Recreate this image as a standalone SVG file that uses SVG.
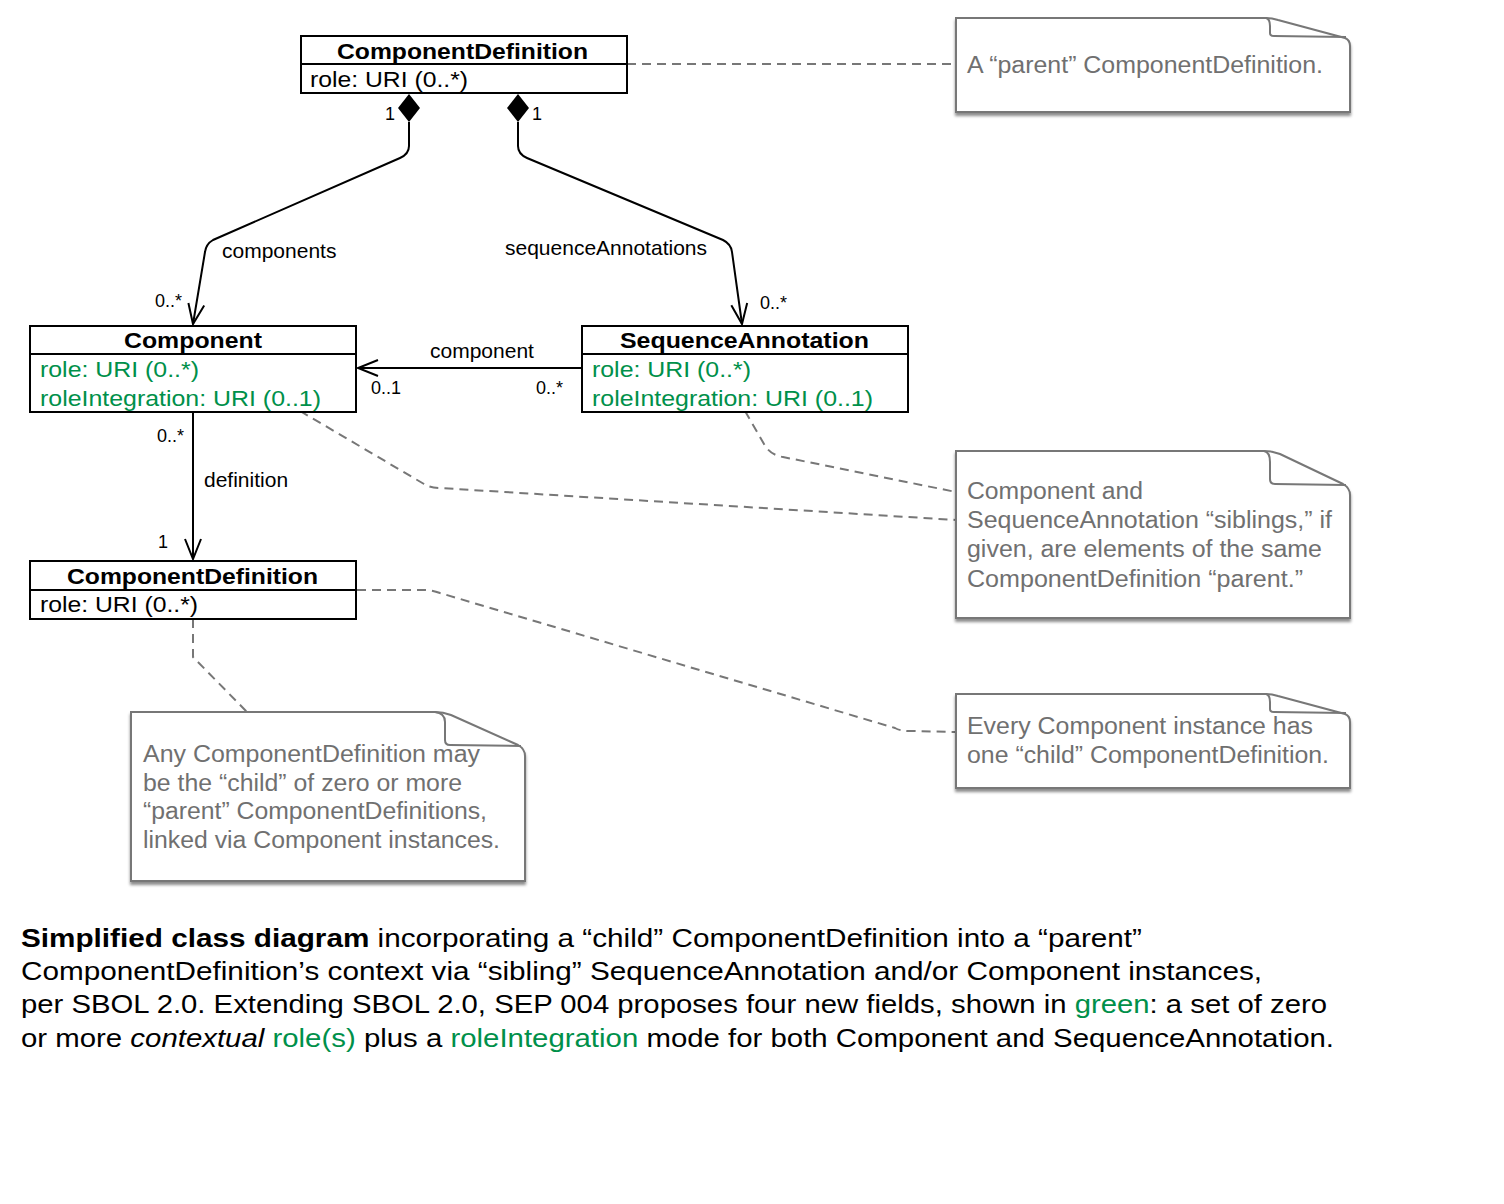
<svg xmlns="http://www.w3.org/2000/svg" width="1504" height="1204" viewBox="0 0 1504 1204">
<style>
text{font-family:"Liberation Sans",Arial,Helvetica,sans-serif;}
.box{fill:#fff;stroke:#000;stroke-width:2;}
.div{stroke:#000;stroke-width:2;}
.title{font-size:22px;font-weight:bold;fill:#000;}
.attr{font-size:22px;fill:#000;}
.green{fill:#00904a;}
.lbl{font-size:21px;fill:#000;}
.mult{font-size:18px;fill:#000;}
.note{fill:#fff;stroke:#777;stroke-width:2;filter:url(#sh);}
.fold{fill:none;stroke:#777;stroke-width:2;}
.ntext{font-size:23px;fill:#707070;}
.assoc{fill:none;stroke:#000;stroke-width:2;}
.dash{fill:none;stroke:#777;stroke-width:2;stroke-dasharray:9 6;}
.cap{font-size:26px;fill:#000;}
</style>
<defs>
<filter id="sh" x="-5%" y="-5%" width="115%" height="125%">
<feDropShadow dx="0" dy="3" stdDeviation="1.5" flood-color="#000" flood-opacity="0.45"/>
</filter>
<marker id="open" markerWidth="24" markerHeight="20" viewBox="0 0 24 20" refX="22" refY="10" orient="auto" markerUnits="userSpaceOnUse">
<path d="M2,2 L22,10 L2,18" fill="none" stroke="#000" stroke-width="2"/>
</marker>
</defs>
<rect width="1504" height="1204" fill="#fff"/>

<g id="connectors">
<path class="dash" d="M627,64 L956,64"/>
<path class="dash" d="M300,411 L424,484 Q430,488 440,488 L956,520"/>
<path class="dash" d="M745,411 L764,444 Q770,455 783,457 L956,492"/>
<path class="dash" d="M357,590 L425,590 Q432,590 440,593 L895,728 Q900,731 910,731 L956,732"/>
<path class="dash" d="M193,619 L193,657 L247,712"/>
<path class="assoc" d="M409,122 L409,146 Q409,154 400,158 L213,240 Q206,244 205,252 L193,324" marker-end="url(#open)"/>
<path class="assoc" d="M518,122 L518,146 Q518,154 527,158 L723,240 Q731,244 732,252 L742,324" marker-end="url(#open)"/>
<polygon points="409,94 420,108 409,122 398,108" fill="#000"/>
<polygon points="518,94 529,108 518,122 507,108" fill="#000"/>
<path class="assoc" d="M582,368 L358,368" marker-end="url(#open)"/>
<path class="assoc" d="M193,412 L193,559" marker-end="url(#open)"/>
<text class="mult" x="385" y="120">1</text>
<text class="mult" x="532" y="120">1</text>
<text class="lbl" x="222" y="258">components</text>
<text class="lbl" x="505" y="255">sequenceAnnotations</text>
<text class="mult" x="155" y="307">0..*</text>
<text class="mult" x="760" y="309">0..*</text>
<text class="lbl" x="430" y="358">component</text>
<text class="mult" x="371" y="394">0..1</text>
<text class="mult" x="536" y="394">0..*</text>
<text class="mult" x="157" y="442">0..*</text>
<text class="lbl" x="204" y="487">definition</text>
<text class="mult" x="158" y="548">1</text>
</g>

<g id="parentCD">
<rect class="box" x="301" y="36" width="326" height="57"/>
<line class="div" x1="301" y1="64" x2="627" y2="64"/>
<text class="title" x="337" y="59" textLength="251" lengthAdjust="spacingAndGlyphs">ComponentDefinition</text>
<text class="attr" x="310" y="87" textLength="158" lengthAdjust="spacingAndGlyphs">role: URI (0..*)</text>
</g>

<g id="component">
<rect class="box" x="30" y="326" width="326" height="86"/>
<line class="div" x1="30" y1="354" x2="356" y2="354"/>
<text class="title" x="124" y="348" textLength="138" lengthAdjust="spacingAndGlyphs">Component</text>
<text class="attr green" x="40" y="377" textLength="159" lengthAdjust="spacingAndGlyphs">role: URI (0..*)</text>
<text class="attr green" x="40" y="406" textLength="281" lengthAdjust="spacingAndGlyphs">roleIntegration: URI (0..1)</text>
</g>

<g id="sequenceAnnotation">
<rect class="box" x="582" y="326" width="326" height="86"/>
<line class="div" x1="582" y1="354" x2="908" y2="354"/>
<text class="title" x="620" y="348" textLength="249" lengthAdjust="spacingAndGlyphs">SequenceAnnotation</text>
<text class="attr green" x="592" y="377" textLength="159" lengthAdjust="spacingAndGlyphs">role: URI (0..*)</text>
<text class="attr green" x="592" y="406" textLength="281" lengthAdjust="spacingAndGlyphs">roleIntegration: URI (0..1)</text>
</g>

<g id="childCD">
<rect class="box" x="30" y="561" width="326" height="58"/>
<line class="div" x1="30" y1="590" x2="356" y2="590"/>
<text class="title" x="67" y="584" textLength="251" lengthAdjust="spacingAndGlyphs">ComponentDefinition</text>
<text class="attr" x="40" y="612" textLength="158" lengthAdjust="spacingAndGlyphs">role: URI (0..*)</text>
</g>

<g id="note1">
<path class="note" d="M956,18 L1266,18 Q1272,18 1278,20 L1345,38 Q1350,40 1350,46 L1350,112 L956,112 Z"/>
<path class="fold" d="M1266,18 Q1270,19 1270,26 L1270,33 Q1270,36 1274,36 L1346,37"/>
<text class="ntext" x="967" y="73" textLength="356" lengthAdjust="spacingAndGlyphs">A “parent” ComponentDefinition.</text>
</g>

<g id="note2">
<path class="note" d="M956,451 L1264,451 Q1272,451 1280,454 L1343,484 Q1350,488 1350,495 L1350,618 L956,618 Z"/>
<path class="fold" d="M1264,451 Q1270,452 1270,462 L1270,479 Q1270,484 1275,484 L1346,485"/>
<text class="ntext" x="967" y="499" textLength="176" lengthAdjust="spacingAndGlyphs">Component and</text>
<text class="ntext" x="967" y="528" textLength="365" lengthAdjust="spacingAndGlyphs">SequenceAnnotation “siblings,” if</text>
<text class="ntext" x="967" y="557" textLength="355" lengthAdjust="spacingAndGlyphs">given, are elements of the same</text>
<text class="ntext" x="967" y="587" textLength="336" lengthAdjust="spacingAndGlyphs">ComponentDefinition “parent.”</text>
</g>

<g id="note3">
<path class="note" d="M956,694 L1266,694 Q1272,694 1278,696 L1345,714 Q1350,716 1350,722 L1350,788 L956,788 Z"/>
<path class="fold" d="M1266,694 Q1270,695 1270,702 L1270,709 Q1270,712 1274,712 L1346,713"/>
<text class="ntext" x="967" y="734" textLength="346" lengthAdjust="spacingAndGlyphs">Every Component instance has</text>
<text class="ntext" x="967" y="763" textLength="362" lengthAdjust="spacingAndGlyphs">one “child” ComponentDefinition.</text>
</g>

<g id="note4">
<path class="note" d="M131,712 L435,712 Q443,712 451,715 L518,745 Q525,749 525,756 L525,881 L131,881 Z"/>
<path class="fold" d="M435,712 Q445,713 445,722 L445,740 Q445,745 450,745 L521,746"/>
<text class="ntext" x="143" y="762" textLength="337" lengthAdjust="spacingAndGlyphs">Any ComponentDefinition may</text>
<text class="ntext" x="143" y="791" textLength="319" lengthAdjust="spacingAndGlyphs">be the “child” of zero or more</text>
<text class="ntext" x="143" y="819" textLength="344" lengthAdjust="spacingAndGlyphs">“parent” ComponentDefinitions,</text>
<text class="ntext" x="143" y="848" textLength="357" lengthAdjust="spacingAndGlyphs">linked via Component instances.</text>
</g>

<g id="caption">
<text class="cap" x="21" y="947" textLength="1121" lengthAdjust="spacingAndGlyphs"><tspan font-weight="bold">Simplified class diagram</tspan> incorporating a “child” ComponentDefinition into a “parent”</text>
<text class="cap" x="21" y="980" textLength="1241" lengthAdjust="spacingAndGlyphs">ComponentDefinition’s context via “sibling” SequenceAnnotation and/or Component instances,</text>
<text class="cap" x="21" y="1013" textLength="1306" lengthAdjust="spacingAndGlyphs">per SBOL 2.0. Extending SBOL 2.0, SEP 004 proposes four new fields, shown in <tspan class="green">green</tspan>: a set of zero</text>
<text class="cap" x="21" y="1047" textLength="1313" lengthAdjust="spacingAndGlyphs">or more <tspan font-style="italic">contextual</tspan> <tspan class="green">role(s)</tspan> plus a <tspan class="green">roleIntegration</tspan> mode for both Component and SequenceAnnotation.</text>
</g>
</svg>
